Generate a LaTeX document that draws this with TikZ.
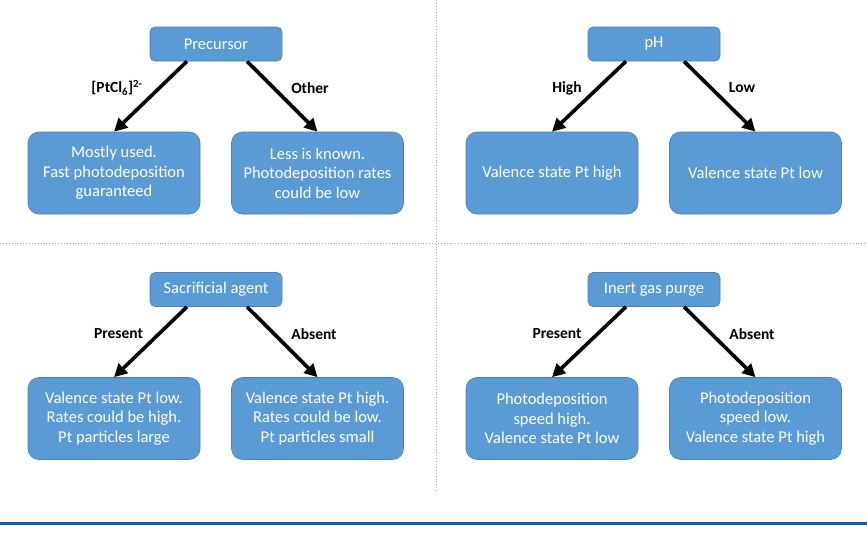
\documentclass[tikz,border=0pt]{standalone}
\usepackage{fontspec}
\setmainfont{Carlito}
\usetikzlibrary{arrows.meta}
\definecolor{boxfill}{HTML}{5B9BD5}
\definecolor{boxline}{HTML}{4A80B8}
\definecolor{barblue}{HTML}{1F5CA8}
\tikzset{
  topbox/.style={draw=boxline, line width=0.6pt, fill=boxfill, rounded corners=5pt,
    minimum width=132pt, minimum height=34pt, inner sep=0pt, text=white,
    font=\fontsize{16.5}{19}\selectfont},
  leafbox/.style={draw=boxline, line width=0.6pt, fill=boxfill, rounded corners=11pt,
    minimum width=172pt, minimum height=82pt, inner sep=0pt, text=white, align=center,
    font=\fontsize{16.5}{19.5}\selectfont},
  branch/.style={-{Triangle[length=13pt,width=13pt]}, line width=3.6pt, black},
  lbl/.style={font=\bfseries\fontsize{15.5}{17}\selectfont, inner sep=0pt},
  divider/.style={gray!70, dotted, line width=0.9pt}
}
\begin{document}
\begin{tikzpicture}[x=1pt,y=-1pt]
\useasboundingbox (0,0) rectangle (867,539);
\fill[white] (0,0) rectangle (867,539);
% dividers
\draw[divider] (436,0) -- (436,493);
\draw[divider] (0,243) -- (867,243);
\draw[barblue, line width=3pt] (0,523) -- (867,523);

% Top-left
\node[topbox] (pre) at (216,44) {Precursor};
\node[leafbox] (pre1) at (114,173) {Mostly used.\\Fast photodeposition\\guaranteed};
\node[leafbox] (pre2) at (317.5,173) {Less is known.\\Photodeposition rates\\could be low};
\draw[branch] ([xshift=-29pt]pre.south) -- (pre1.north);
\draw[branch] ([xshift=31pt]pre.south) -- (pre2.north);
\node[lbl] (lpre1) at (117,88) {[PtCl\textsubscript{6}]\textsuperscript{2-}};
\node[lbl] (lpre2) at (310,88) {Other};

% Top-right
\node[topbox] (ph) at (654,44) {pH};
\node[leafbox] (ph1) at (552,173) {Valence state Pt high};
\node[leafbox] (ph2) at (755.5,173) {Valence state Pt low};
\draw[branch] ([xshift=-28pt]ph.south) -- (ph1.north);
\draw[branch] ([xshift=30pt]ph.south) -- (ph2.north);
\node[lbl] (lph1) at (567,88) {High};
\node[lbl] (lph2) at (742,88) {Low};

% Bottom-left
\node[topbox] (sac) at (216,289.5) {Sacrificial agent};
\node[leafbox] (sac1) at (114,418.5) {Valence state Pt low.\\Rates could be high.\\Pt particles large};
\node[leafbox] (sac2) at (317.5,418.5) {Valence state Pt high.\\Rates could be low.\\Pt particles small};
\draw[branch] ([xshift=-29pt]sac.south) -- (sac1.north);
\draw[branch] ([xshift=31pt]sac.south) -- (sac2.north);
\node[lbl] (lsac1) at (118.5,334) {Present};
\node[lbl] (lsac2) at (314,334) {Absent};

% Bottom-right
\node[topbox] (gas) at (654,289.5) {Inert gas purge};
\node[leafbox] (gas1) at (552,418.5) {Photodeposition\\speed high.\\Valence state Pt low};
\node[leafbox] (gas2) at (755.5,418.5) {Photodeposition\\speed low.\\Valence state Pt high};
\draw[branch] ([xshift=-28pt]gas.south) -- (gas1.north);
\draw[branch] ([xshift=30pt]gas.south) -- (gas2.north);
\node[lbl] (lgas1) at (557,334) {Present};
\node[lbl] (lgas2) at (752,334) {Absent};
\end{tikzpicture}
\end{document}
